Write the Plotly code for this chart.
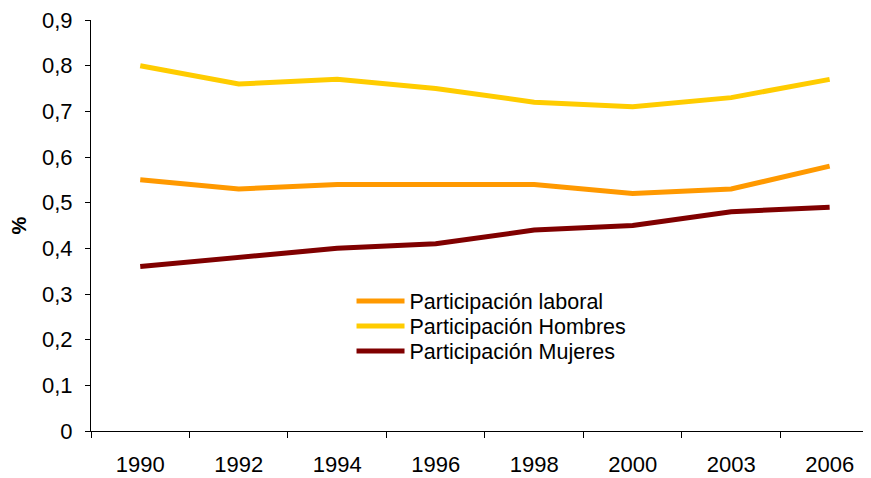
import plotly.graph_objects as go

years = ["1990", "1992", "1994", "1996", "1998", "2000", "2003", "2006"]
laboral = [0.55, 0.53, 0.54, 0.54, 0.54, 0.52, 0.53, 0.58]
hombres = [0.80, 0.76, 0.77, 0.75, 0.72, 0.71, 0.73, 0.77]
mujeres = [0.36, 0.38, 0.40, 0.41, 0.44, 0.45, 0.48, 0.49]
y_ticks = [0, 0.1, 0.2, 0.3, 0.4, 0.5, 0.6, 0.7, 0.8, 0.9]
y_ticklabels = ["0", "0,1", "0,2", "0,3", "0,4", "0,5", "0,6", "0,7", "0,8", "0,9"]
names = ["Participación laboral", "Participación Hombres", "Participación Mujeres"]
colors = ["#FF9900", "#FFCC00", "#800000"]

FONT = "Liberation Sans, Arial, sans-serif"

fig = go.Figure()
legend_ids = ["legend", "legend2", "legend3"]
for name, vals, col, lg in zip(names, [laboral, hombres, mujeres], colors, legend_ids):
    fig.add_trace(go.Scatter(x=years, y=vals, mode="lines", name=name, legend=lg,
                             line=dict(color=col, width=5)))

legend_style = dict(xanchor="left", yanchor="middle", bgcolor="rgba(0,0,0,0)",
                    itemwidth=48, font=dict(family=FONT, size=21.5, color="black"))
lx = 0.334
# page body has an 8px margin, so the figure is shifted by 8px
fig.update_layout(
    width=863, height=470,
    margin=dict(l=83, r=0, t=12, b=47),
    paper_bgcolor="white", plot_bgcolor="white",
    font=dict(family=FONT, size=21, color="black"),
    showlegend=True,
    legend=dict(x=lx, y=0.3163, **legend_style),
    legend2=dict(x=lx, y=0.2555, **legend_style),
    legend3=dict(x=lx, y=0.1946, **legend_style),
)
fig.update_xaxes(type="category", range=[-0.5, 7.42], showline=True, linecolor="black",
                 linewidth=1, ticks="outside", tickson="boundaries", ticklen=6,
                 tickcolor="black", showgrid=False, zeroline=False, automargin=False,
                 ticklabeloverflow="allow",
                 ticklabelstandoff=14, tickfont=dict(size=22))
fig.update_yaxes(range=[0, 0.9], tickmode="array", tickvals=y_ticks, ticktext=y_ticklabels,
                 showline=True, linecolor="black",
                 linewidth=1, ticks="outside", ticklen=5, tickcolor="black",
                 showgrid=False, zeroline=False, ticklabelstandoff=8, automargin=False,
                 ticklabeloverflow="allow",
                 tickfont=dict(size=22),
                 title=dict(text="<b>%</b>", font=dict(size=20), standoff=20))

fig.write_html("out.html")
